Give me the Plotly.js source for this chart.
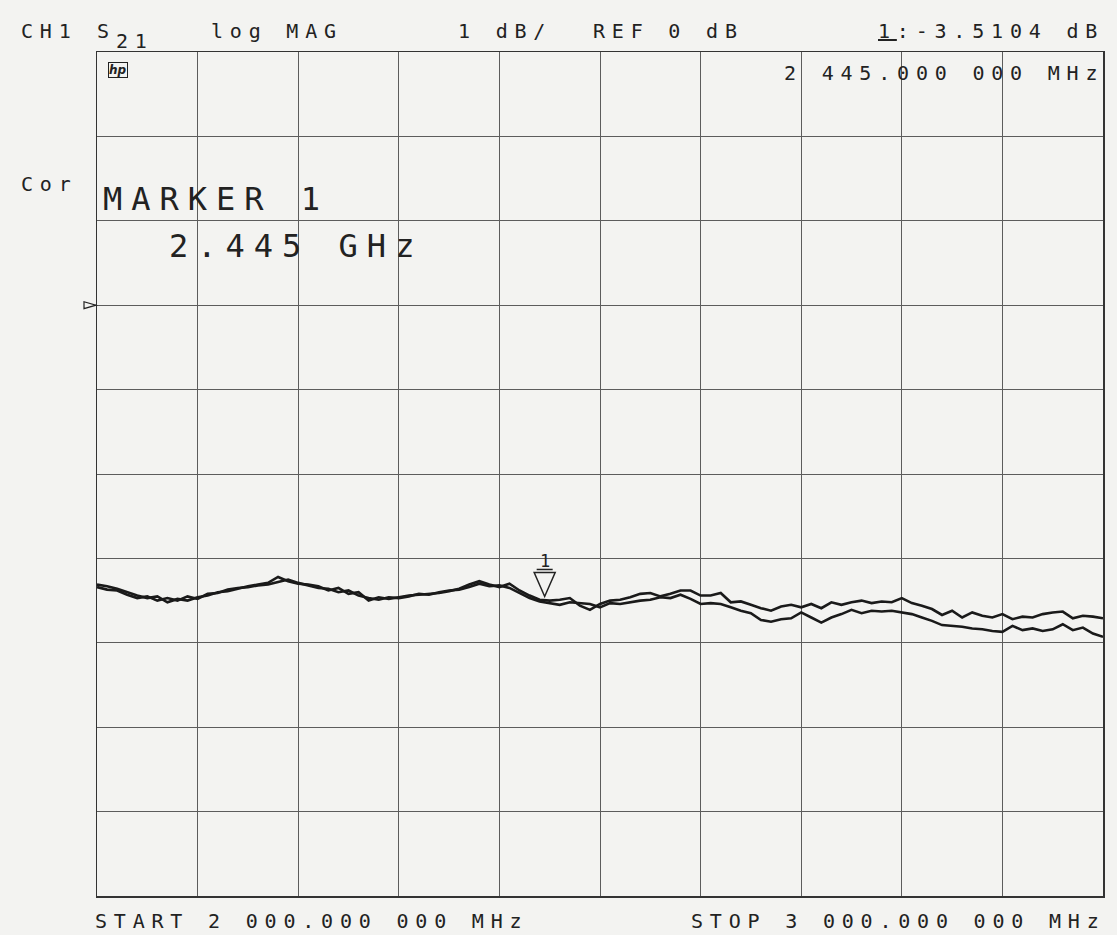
<!DOCTYPE html>
<html>
<head>
<meta charset="utf-8">
<script src="https://cdn.plot.ly/plotly-3.0.1.min.js"></script>
<style>
html,body{margin:0;padding:0;background:#f3f3f1;overflow:hidden;}
#chart{width:1117px;height:935px;}
</style>
</head>
<body>
<div id="chart"></div>
<script>
// Frequency axis (MHz), 10 MHz steps
const freqMHz = [2000,2010,2020,2030,2040,2050,2060,2070,2080,2090,
2100,2110,2120,2130,2140,2150,2160,2170,2180,2190,
2200,2210,2220,2230,2240,2250,2260,2270,2280,2290,
2300,2310,2320,2330,2340,2350,2360,2370,2380,2390,
2400,2410,2420,2430,2440,2450,2460,2470,2480,2490,
2500,2510,2520,2530,2540,2550,2560,2570,2580,2590,
2600,2610,2620,2630,2640,2650,2660,2670,2680,2690,
2700,2710,2720,2730,2740,2750,2760,2770,2780,2790,
2800,2810,2820,2830,2840,2850,2860,2870,2880,2890,
2900,2910,2920,2930,2940,2950,2960,2970,2980,2990,3000];

// S21 trace A (dB)
const s21TraceA = [-3.31,-3.33,-3.36,-3.40,-3.44,-3.47,-3.45,-3.52,-3.48,-3.50,
-3.46,-3.44,-3.40,-3.39,-3.36,-3.33,-3.31,-3.29,-3.22,-3.27,
-3.30,-3.31,-3.33,-3.38,-3.35,-3.42,-3.40,-3.50,-3.46,-3.48,
-3.46,-3.44,-3.43,-3.42,-3.41,-3.39,-3.36,-3.31,-3.27,-3.31,
-3.34,-3.30,-3.38,-3.44,-3.49,-3.50,-3.49,-3.47,-3.56,-3.61,
-3.54,-3.50,-3.49,-3.46,-3.42,-3.41,-3.45,-3.42,-3.38,-3.38,
-3.44,-3.44,-3.41,-3.52,-3.51,-3.55,-3.59,-3.62,-3.57,-3.55,
-3.58,-3.54,-3.59,-3.52,-3.55,-3.52,-3.50,-3.53,-3.51,-3.52,
-3.47,-3.53,-3.56,-3.60,-3.67,-3.62,-3.70,-3.64,-3.68,-3.70,
-3.66,-3.72,-3.69,-3.70,-3.66,-3.64,-3.63,-3.71,-3.68,-3.69,-3.71];

// S21 trace B (dB)
const s21TraceB = [-3.34,-3.37,-3.38,-3.43,-3.47,-3.45,-3.50,-3.47,-3.50,-3.45,
-3.48,-3.42,-3.41,-3.37,-3.35,-3.34,-3.32,-3.31,-3.28,-3.25,
-3.29,-3.32,-3.35,-3.36,-3.40,-3.38,-3.44,-3.47,-3.49,-3.46,
-3.47,-3.45,-3.42,-3.43,-3.40,-3.38,-3.37,-3.34,-3.30,-3.33,
-3.32,-3.35,-3.41,-3.47,-3.51,-3.53,-3.55,-3.52,-3.53,-3.54,
-3.58,-3.53,-3.54,-3.52,-3.50,-3.49,-3.46,-3.47,-3.43,-3.48,
-3.54,-3.53,-3.54,-3.58,-3.62,-3.65,-3.73,-3.75,-3.72,-3.71,
-3.64,-3.70,-3.76,-3.70,-3.66,-3.61,-3.65,-3.62,-3.63,-3.62,
-3.64,-3.66,-3.70,-3.74,-3.79,-3.80,-3.81,-3.83,-3.84,-3.86,
-3.87,-3.80,-3.85,-3.83,-3.86,-3.84,-3.78,-3.85,-3.82,-3.89,-3.93];

// Marker & scale settings
const markerFreq = 2445;
const markerVal = -3.5104;
const refLevel = 0;
const freqStart = 2000;
const freqStop = 3000;
const dbTop = 3;
const dbBottom = -7;

// pixel -> paper helpers (plot area 97..1103 x 52..896)
const L = 97, R = 1103, T = 52, B = 896;
const px = v => (v - L) / (R - L);
const py = v => (B - v) / (B - T);

const INK = '#222222';
const MONO = '"DejaVu Sans Mono", "Liberation Mono", monospace';
const sp = (t, s) => '<span style="letter-spacing:' + s + 'px">' + t + '</span>';

function txt(t, x, y, opts) {
  opts = opts || {};
  return {
    text: sp(t, opts.ls != null ? opts.ls : 6.8),
    xref: 'paper', yref: 'paper',
    x: px(x), y: py(y),
    xanchor: opts.anchor || 'left', yanchor: 'middle',
    showarrow: false,
    font: {family: MONO, size: opts.size || 20, color: INK}
  };
}

const traces = [
  {x: freqMHz, y: s21TraceA, type: 'scatter', mode: 'lines',
   line: {color: '#1a1a1a', width: 2.6}, hoverinfo: 'skip', showlegend: false},
  {x: freqMHz, y: s21TraceB, type: 'scatter', mode: 'lines',
   line: {color: '#1a1a1a', width: 2.6}, hoverinfo: 'skip', showlegend: false}
];

const annotations = [
  txt('CH1', 19, 31),
  txt('S', 95, 31),
  txt('21', 114, 41),
  txt('log MAG', 209, 31),
  txt('1 dB/', 456, 31),
  txt('REF 0 dB', 591, 31),
  txt('<u>1</u>:-3.5104 dB', 1106, 31, {anchor: 'right'}),
  txt('2 445.000 000 MHz', 1106, 72.5, {anchor: 'right'}),
  txt('Cor', 19, 184.5),
  txt('MARKER 1', 101, 199, {size: 32, ls: 9}),
  txt('2.445 GHz', 167, 246, {size: 32, ls: 9}),
  txt('START 2 000.000 000 MHz', 93, 921),
  txt('STOP 3 000.000 000 MHz', 1108, 921, {anchor: 'right'}),
  {text: '<b><i>hp</i></b>', xref: 'paper', yref: 'paper', x: px(108), y: py(70.5),
   xanchor: 'left', yanchor: 'middle', showarrow: false,
   font: {family: '"DejaVu Sans"', size: 12, color: INK},
   bordercolor: INK, borderwidth: 1, borderpad: 0},
  {text: '1', xref: 'x', yref: 'y', x: markerFreq, y: markerVal,
   xanchor: 'center', yanchor: 'middle', yshift: 40, showarrow: false,
   font: {family: MONO, size: 17, color: INK}}
];

const shapes = [
  // marker triangle (tip just above the trace value)
  {type: 'path', xref: 'x', yref: 'y', xsizemode: 'pixel', ysizemode: 'pixel',
   xanchor: markerFreq, yanchor: markerVal,
   path: 'M -10.5,29 L 10.5,29 L 0,5 Z', line: {color: INK, width: 1.5}},
  {type: 'path', xref: 'x', yref: 'y', xsizemode: 'pixel', ysizemode: 'pixel',
   xanchor: markerFreq, yanchor: markerVal,
   path: 'M -8,32 L 8,32', line: {color: INK, width: 1.5}},
  // reference level pointer
  {type: 'path', xref: 'paper', yref: 'y', xsizemode: 'pixel', ysizemode: 'pixel',
   xanchor: 0, yanchor: refLevel,
   path: 'M -13,3.5 L -13,-3.5 L -1,0 Z', line: {color: INK, width: 1.2}}
];

const layout = {
  width: 1117, height: 935,
  margin: {l: L, r: 1117 - R, t: T, b: 935 - B, pad: 0},
  paper_bgcolor: '#f3f3f1', plot_bgcolor: '#f3f3f1',
  showlegend: false,
  xaxis: {range: [freqStart, freqStop], dtick: 100, tick0: freqStart,
    showgrid: true, gridcolor: '#5c5c5c', gridwidth: 1,
    showticklabels: false, ticks: '', zeroline: false,
    showline: true, mirror: true, linecolor: '#333', linewidth: 1.5, fixedrange: true},
  yaxis: {range: [dbBottom, dbTop], dtick: 1, tick0: 0,
    showgrid: true, gridcolor: '#5c5c5c', gridwidth: 1,
    showticklabels: false, ticks: '', zeroline: false,
    showline: true, mirror: true, linecolor: '#333', linewidth: 1.5, fixedrange: true},
  annotations: annotations,
  shapes: shapes
};

Plotly.newPlot('chart', traces, layout, {displayModeBar: false, staticPlot: true});
</script>
</body>
</html>
